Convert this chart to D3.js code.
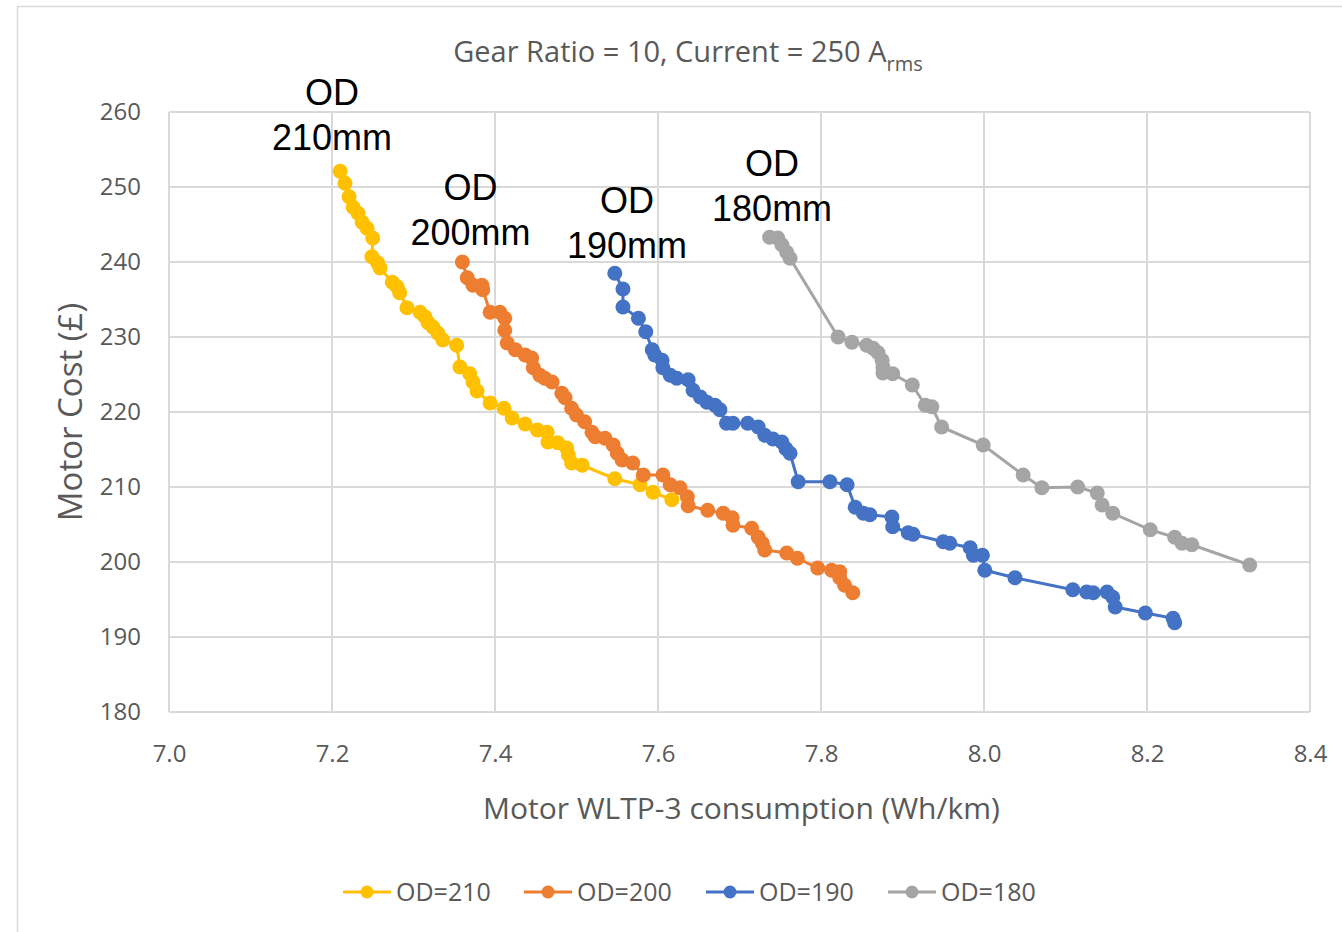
<!DOCTYPE html>
<html>
<head>
<meta charset="utf-8">
<script src="https://cdn.jsdelivr.net/npm/d3@7"></script>
<style>
  body { margin: 0; background: #fff; }
  text { font-family: "Open Sans", sans-serif; }
</style>
</head>
<body>
<div id="chart"></div>
<script>
var svgWidth = 1342;
var svgHeight = 932;

var margin = { top: 112, right: 32, bottom: 220, left: 169 };
var width = svgWidth - margin.left - margin.right;
var height = svgHeight - margin.top - margin.bottom;

// series data: [consumption Wh/km, cost £]
var od210 = [[7.210,252.1],[7.216,250.5],[7.221,248.7],[7.226,247.3],[7.232,246.5],[7.237,245.3],
  [7.243,244.5],[7.250,243.2],[7.249,240.7],[7.256,239.9],[7.259,239.2],[7.274,237.3],[7.280,236.7],
  [7.283,235.9],[7.292,233.9],[7.308,233.3],[7.314,232.7],[7.318,231.9],[7.324,231.3],[7.330,230.5],
  [7.336,229.6],[7.353,228.9],[7.357,226.0],[7.369,225.1],[7.373,224.0],[7.378,222.8],[7.394,221.2],
  [7.411,220.5],[7.421,219.2],[7.437,218.4],[7.452,217.6],[7.464,217.3],[7.465,216.0],[7.477,215.9],
  [7.488,215.2],[7.490,214.3],[7.494,213.2],[7.507,212.9],[7.547,211.1],[7.578,210.3],[7.594,209.3],
  [7.617,208.3]];

var od200 = [[7.360,240.0],[7.366,237.9],[7.373,236.9],[7.384,236.9],[7.385,236.3],[7.394,233.3],
  [7.406,233.3],[7.412,232.5],[7.412,230.9],[7.415,229.2],[7.425,228.3],[7.437,227.6],[7.445,227.2],
  [7.447,225.9],[7.455,224.9],[7.461,224.5],[7.470,224.0],[7.482,222.5],[7.486,221.9],[7.494,220.5],
  [7.500,219.6],[7.510,218.7],[7.519,217.3],[7.523,216.7],[7.535,216.5],[7.545,215.6],[7.550,214.5],
  [7.556,213.6],[7.569,213.2],[7.582,211.6],[7.606,211.6],[7.615,210.3],[7.627,209.9],[7.636,208.7],
  [7.637,207.5],[7.661,206.9],[7.680,206.5],[7.691,205.9],[7.692,204.9],[7.715,204.5],[7.723,203.3],
  [7.728,202.5],[7.731,201.6],[7.758,201.2],[7.771,200.5],[7.796,199.2],[7.813,198.9],[7.823,198.7],
  [7.823,197.9],[7.829,196.9],[7.839,195.9]];

var od190 = [[7.547,238.5],[7.557,236.4],[7.557,234.0],[7.576,232.5],[7.585,230.7],[7.593,228.3],
  [7.596,227.6],[7.605,226.9],[7.606,225.9],[7.615,224.9],[7.623,224.5],[7.637,224.3],[7.643,222.9],
  [7.652,222.0],[7.660,221.3],[7.670,220.9],[7.676,220.3],[7.684,218.5],[7.692,218.5],[7.710,218.5],
  [7.723,218.0],[7.731,216.9],[7.741,216.4],[7.752,216.0],[7.757,215.1],[7.762,214.5],[7.772,210.7],
  [7.811,210.7],[7.832,210.3],[7.842,207.3],[7.852,206.5],[7.860,206.3],[7.887,206.0],[7.888,204.7],
  [7.907,203.9],[7.913,203.7],[7.950,202.7],[7.958,202.5],[7.983,201.9],[7.987,200.9],[7.998,200.9],
  [8.001,198.9],[8.038,197.9],[8.109,196.3],[8.126,196.0],[8.134,195.9],[8.151,196.0],[8.158,195.3],
  [8.161,194.0],[8.198,193.2],[8.232,192.5],[8.234,191.9]];

var od180 = [[7.737,243.3],[7.747,243.2],[7.752,242.3],[7.758,241.3],[7.762,240.5],[7.821,230.0],
  [7.838,229.3],[7.856,228.9],[7.864,228.5],[7.870,227.9],[7.875,226.9],[7.876,226.0],[7.876,225.2],
  [7.888,225.1],[7.912,223.6],[7.928,220.9],[7.936,220.7],[7.948,218.0],[7.999,215.6],[8.048,211.6],
  [8.071,209.9],[8.115,210.0],[8.139,209.2],[8.145,207.6],[8.158,206.5],[8.204,204.3],[8.234,203.3],
  [8.243,202.5],[8.255,202.3],[8.326,199.6]];

var seriesNames = ["OD=210", "OD=200", "OD=190", "OD=180"];
var seriesData = [od210, od200, od190, od180];
var seriesColors = ["#FFC000", "#ED7D31", "#4472C4", "#A5A5A5"];

var xTicks = [7.0, 7.2, 7.4, 7.6, 7.8, 8.0, 8.2, 8.4];
var yTicks = [180, 190, 200, 210, 220, 230, 240, 250, 260];

// callouts next to the top of each curve: [line1, line2, x value, y value]
var callouts = [["OD", "210mm", 7.2, 255], ["OD", "200mm", 7.37, 242.3],
  ["OD", "190mm", 7.562, 240.6], ["OD", "180mm", 7.74, 245.5]];

var svg = d3.select("#chart")
  .append("svg")
  .attr("width", svgWidth)
  .attr("height", svgHeight);

// chart frame
svg.append("rect")
  .attr("x", 17.5).attr("y", 6.5)
  .attr("width", 1400).attr("height", 1000)
  .attr("fill", "none")
  .attr("stroke", "#d9d9d9")
  .attr("stroke-width", 1.5);

var chartGroup = svg.append("g")
  .attr("transform", `translate(${margin.left}, ${margin.top})`);

var xScale = d3.scaleLinear().domain([7.0, 8.4]).range([0, width]);
var yScale = d3.scaleLinear().domain([180, 260]).range([height, 0]);

// gridlines
chartGroup.append("g")
  .selectAll("line.h")
  .data(yTicks)
  .enter()
  .append("line")
  .attr("x1", 0).attr("x2", width)
  .attr("y1", d => yScale(d)).attr("y2", d => yScale(d))
  .attr("stroke", "#d9d9d9").attr("stroke-width", 2);

chartGroup.append("g")
  .selectAll("line.v")
  .data(xTicks)
  .enter()
  .append("line")
  .attr("y1", 0).attr("y2", height)
  .attr("x1", d => xScale(d)).attr("x2", d => xScale(d))
  .attr("stroke", "#d9d9d9").attr("stroke-width", 2);

// axes (labels only, lines are the gridlines)
var bottomAxis = d3.axisBottom(xScale).tickValues(xTicks).tickFormat(d3.format(".1f")).tickSize(0).tickPadding(33);
var leftAxis = d3.axisLeft(yScale).tickValues(yTicks).tickSize(0).tickPadding(28);

var xAxis = chartGroup.append("g")
  .attr("transform", `translate(0, ${height})`)
  .call(bottomAxis);
var yAxis = chartGroup.append("g").call(leftAxis);

[xAxis, yAxis].forEach(function (ax) {
  ax.select(".domain").remove();
  ax.selectAll("text")
    .attr("fill", "#595959")
    .style("font-family", "'Open Sans', sans-serif")
    .style("font-size", "24px");
});

// series
var line = d3.line().x(d => xScale(d[0])).y(d => yScale(d[1]));

seriesData.forEach(function (data, i) {
  var g = chartGroup.append("g");
  g.append("path")
    .datum(data)
    .attr("d", line)
    .attr("fill", "none")
    .attr("stroke", seriesColors[i])
    .attr("stroke-width", 3);
  g.selectAll("circle")
    .data(data)
    .enter()
    .append("circle")
    .attr("cx", d => xScale(d[0]))
    .attr("cy", d => yScale(d[1]))
    .attr("r", 7.5)
    .attr("fill", seriesColors[i]);
});

// callout labels
callouts.forEach(function (c) {
  var t = chartGroup.append("text")
    .attr("x", xScale(c[2]))
    .attr("y", yScale(c[3]))
    .attr("text-anchor", "middle")
    .style("font-family", "'Liberation Sans', Arial, sans-serif")
    .style("font-size", "36px")
    .attr("fill", "#000");
  t.append("tspan").attr("x", xScale(c[2])).attr("dy", "-1.25em").text(c[0]);
  t.append("tspan").attr("x", xScale(c[2])).attr("dy", "1.25em").text(c[1]);
});

// title
var title = svg.append("text")
  .attr("x", 688)
  .attr("y", 62)
  .attr("text-anchor", "middle")
  .attr("fill", "#595959")
  .style("font-size", "29px");
title.append("tspan").text("Gear Ratio = 10, Current = 250 A");
title.append("tspan").attr("dy", 9).style("font-size", "20px").text("rms");

// axis titles
svg.append("text")
  .attr("x", margin.left + width / 2 + 2)
  .attr("y", 819)
  .attr("text-anchor", "middle")
  .attr("fill", "#595959")
  .style("font-size", "30px")
  .text("Motor WLTP-3 consumption (Wh/km)");

svg.append("text")
  .attr("transform", "rotate(-90)")
  .attr("x", -412)
  .attr("y", 82)
  .attr("text-anchor", "middle")
  .attr("fill", "#595959")
  .style("font-size", "33px")
  .text("Motor Cost (£)");

// legend
var legendX = [343, 524, 706, 888];
var legend = svg.append("g");
seriesNames.forEach(function (name, i) {
  var lg = legend.append("g").attr("transform", `translate(${legendX[i]}, 892)`);
  lg.append("line").attr("x1", 0).attr("x2", 48).attr("y1", 0).attr("y2", 0)
    .attr("stroke", seriesColors[i]).attr("stroke-width", 3);
  lg.append("circle").attr("cx", 24).attr("cy", 0).attr("r", 6.5).attr("fill", seriesColors[i]);
  lg.append("text").attr("x", 53).attr("y", 9)
    .attr("fill", "#595959")
    .style("font-size", "25px")
    .text(name);
});
</script>
</body>
</html>
